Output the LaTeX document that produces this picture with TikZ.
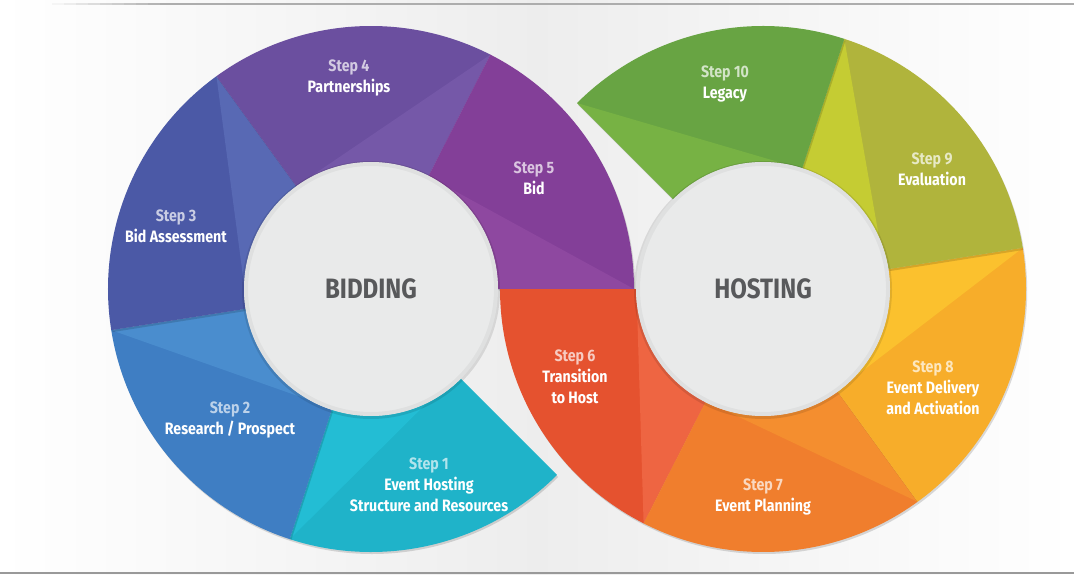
\documentclass[tikz,border=0pt]{standalone}
\usepackage{fontspec}
\setmainfont{Fira Sans}[FakeStretch=0.86]
\usetikzlibrary{calc}
\definecolor{sone}{HTML}{1FB3C9}   \definecolor{sonel}{HTML}{23BDD4}
\definecolor{stwo}{HTML}{3F7EC3}   \definecolor{stwol}{HTML}{4A8DCE}
\definecolor{sthree}{HTML}{4B59A6} \definecolor{sthreel}{HTML}{5869B4}
\definecolor{sfour}{HTML}{6B4F9F}  \definecolor{sfourl}{HTML}{7558A8}
\definecolor{sfive}{HTML}{833F98}  \definecolor{sfivel}{HTML}{8E48A0}
\definecolor{ssix}{HTML}{E5522F}   \definecolor{ssixl}{HTML}{EE6542}
\definecolor{sseven}{HTML}{F07E2D} \definecolor{ssevenl}{HTML}{F48E2F}
\definecolor{seight}{HTML}{F7AD2A} \definecolor{seightl}{HTML}{FBC12E}
\definecolor{snine}{HTML}{B0B43C}  \definecolor{sninel}{HTML}{C5CC33}
\definecolor{sten}{HTML}{68A443}   \definecolor{stenl}{HTML}{77B244}
\definecolor{hubfill}{HTML}{E9EAEA}
\definecolor{hubtext}{HTML}{58595B}
\newcommand\Rout{263pt}
\newcommand\Rin{127pt}
% one piece of a ring: centre, from, to, colour
\newcommand\ringpart[4]{
  \fill[black,opacity=.14,shift={#1},xshift=1.2pt,yshift=-2pt] (#2:\Rout) arc[start angle=#2,end angle=#3,radius=\Rout]
    -- (#3:\Rin) arc[start angle=#3,end angle=#2,radius=\Rin] -- cycle;
  \fill[#4,shift={#1}] (#2:\Rout) arc[start angle=#2,end angle=#3,radius=\Rout]
    -- (#3:\Rin) arc[start angle=#3,end angle=#2,radius=\Rin] -- cycle;
}
% lighter fold of a piece: centre, seam, end on inner arc, colour
\newcommand\lightpart[4]{
  \fill[#4,shift={#1}] (#2:\Rout) -- (#2:\Rin) arc[start angle=#2,end angle=#3,radius=\Rin] -- cycle;
}

\begin{document}
\begin{tikzpicture}[x=1pt,y=1pt,
  steptext/.style={text=white,align=center,font=\bfseries\fontsize{16.5}{21}\selectfont},
  hub/.style={text=hubtext,font=\bfseries\fontsize{28}{32}\selectfont}]
\useasboundingbox (0,0) rectangle (1074,574);
\shade[left color=white,right color=white,middle color=black!7] (0,0) rectangle (1074,574);
% frame lines
\foreach \i in {0,...,9}
  \fill[black!32,opacity=\i/10] (40+\i*12,568.5) rectangle (52+\i*12,570.5);
\fill[black!32] (160,568.5) rectangle (1074,570.5);
\fill[black!40] (0,0) rectangle (1074,2.2);

% bidding ring
\ringpart{(371,285)}{252}{315}{sone}
\lightpart{(371,285)}{252}{296}{sonel}
\ringpart{(371,285)}{189}{252}{stwo}
\lightpart{(371,285)}{189}{241}{stwol}
\ringpart{(371,285)}{126}{189}{sthree}
\lightpart{(371,285)}{126}{178}{sthreel}
\ringpart{(371,285)}{63}{126}{sfour}
\lightpart{(371,285)}{63}{122}{sfourl}
\ringpart{(371,285)}{0}{63}{sfive}
\lightpart{(371,285)}{0}{55}{sfivel}

% hosting ring
\ringpart{(763,285)}{180}{243}{ssix}
\lightpart{(763,285)}{243}{187}{ssixl}
\ringpart{(763,285)}{243}{306}{sseven}
\lightpart{(763,285)}{306}{252}{ssevenl}
\ringpart{(763,285)}{306}{369}{seight}
\lightpart{(763,285)}{369}{316}{seightl}
\ringpart{(763,285)}{9}{72}{snine}
\lightpart{(763,285)}{72}{24}{sninel}
\ringpart{(763,285)}{72}{135}{sten}
\lightpart{(763,285)}{135}{80}{stenl}

% hubs
\foreach \cx in {371,763}{
  \fill[black,opacity=.10] (\cx,284) circle[radius=129pt];
  \fill[hubfill] (\cx,285) circle[radius=\Rin];
  \draw[black,opacity=.04,line width=4pt] (\cx,285) circle[radius=125pt];
}
\node[hub] (bid) at (371,285) {BIDDING};
\node[hub] (host) at (763,285) {HOSTING};

% step labels
\node[steptext] (s1) at (429,89) {\textcolor{sone!35!white}{Step 1}\\Event Hosting\\Structure and Resources};
\node[steptext] (s2) at (230,154) {\textcolor{stwo!35!white}{Step 2}\\Research / Prospect};
\node[steptext] (s3) at (176,348) {\textcolor{sthree!30!white}{Step 3}\\Bid Assessment};
\node[steptext] (s4) at (349,496) {\textcolor{sfour!30!white}{Step 4}\\Partnerships};
\node[steptext] (s5) at (534,396) {\textcolor{sfive!30!white}{Step 5}\\Bid};
\node[steptext] (s6) at (575,197) {\textcolor{ssix!30!white}{Step 6}\\Transition\\to Host};
\node[steptext] (s7) at (763,77) {\textcolor{sseven!30!white}{Step 7}\\Event Planning};
\node[steptext] (s8) at (933,186) {\textcolor{seight!30!white}{Step 8}\\Event Delivery\\and Activation};
\node[steptext] (s9) at (932,405) {\textcolor{snine!30!white}{Step 9}\\Evaluation};
\node[steptext] (s10) at (725,490) {\textcolor{sten!30!white}{Step 10}\\Legacy};
\end{tikzpicture}
\end{document}
